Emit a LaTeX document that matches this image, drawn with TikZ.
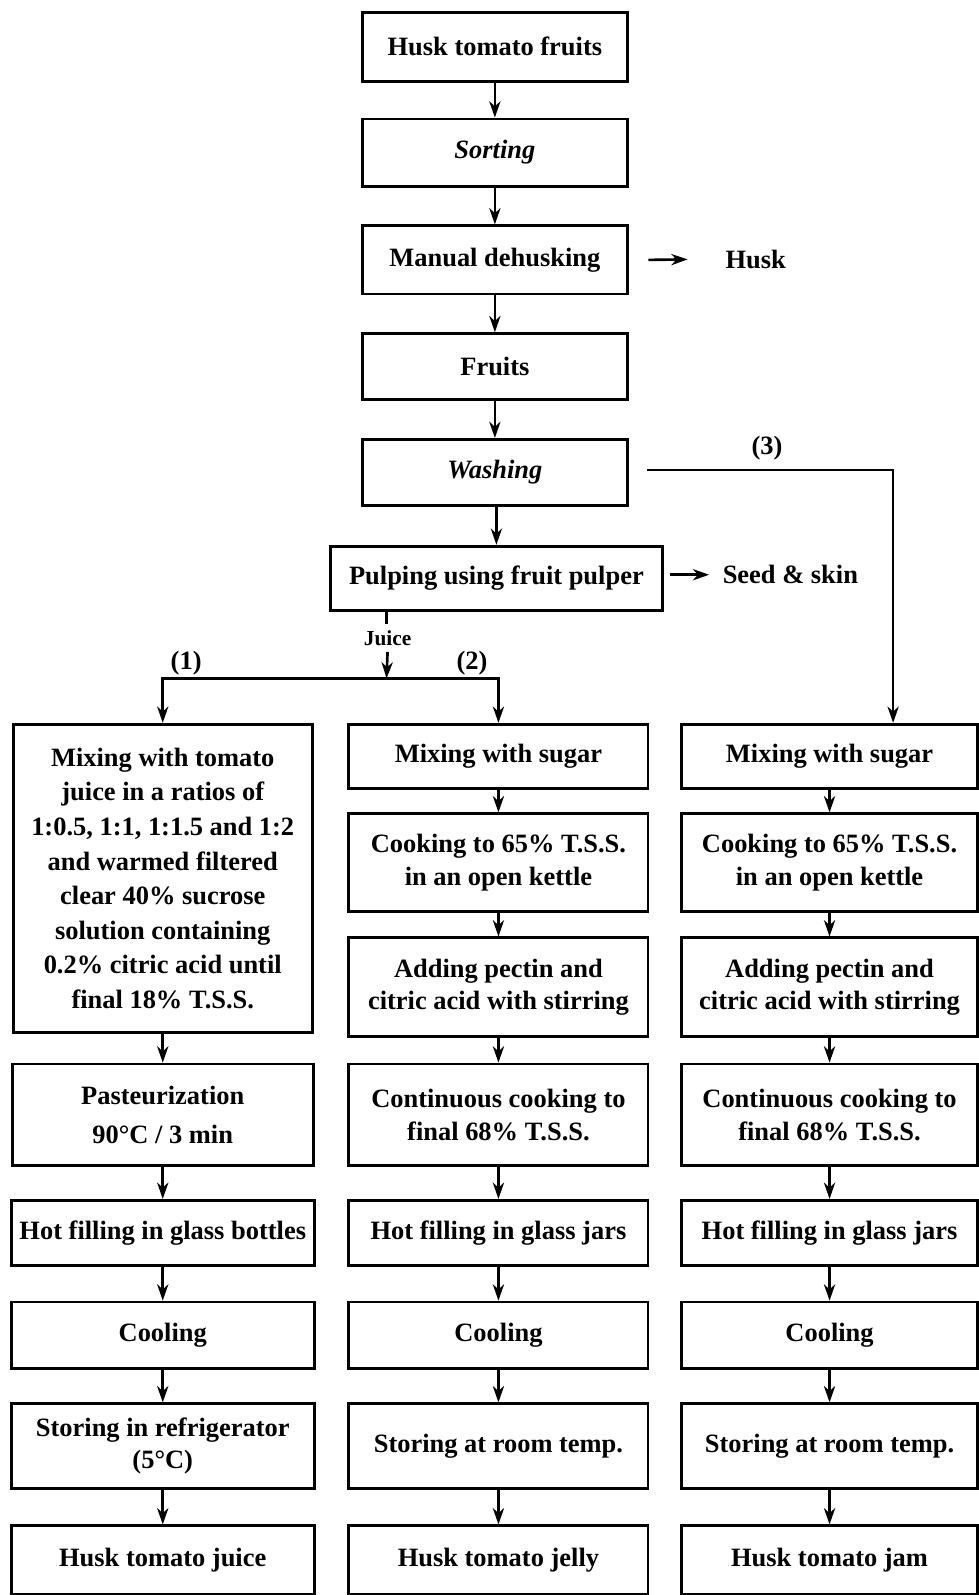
\documentclass[tikz,border=0pt]{standalone}
\usepackage{fontspec}
\setmainfont{Liberation Serif}
\usetikzlibrary{arrows.meta}
\begin{document}
\begin{tikzpicture}[x=0.5pt,y=-0.5pt,
  box/.style={draw,line width=1.4pt,align=center,inner sep=0pt,font=\fontsize{13}{16}\selectfont\bfseries},
  wh/.style 2 args={minimum width={#1*0.5pt},minimum height={#2*0.5pt}},
  lbl/.style={inner sep=0pt,font=\fontsize{13}{16}\selectfont\bfseries},
  arr/.style={line width=1.3pt,-{Stealth[length=8pt,width=5.5pt,inset=2.5pt]}},
  ln/.style={line width=1.3pt}]
\useasboundingbox (0,0) rectangle (962,1568);
% top column
\node[box,wh={261}{68}] (n1) at (486.5,46) {Husk tomato fruits};
\node[box,wh={261}{66}] (n2) at (486.5,150) {\itshape Sorting};
\node[box,wh={261}{67}] (n3) at (486.5,255.5) {Manual dehusking};
\node[box,wh={261}{65}] (n4) at (486.5,360.5) {Fruits};
\node[box,wh={261}{65}] (n5) at (486.5,464.5) {\itshape Washing};
\node[box,wh={326}{63}] (n6) at (488,568.5) {Pulping using fruit pulper};
\draw[arr] (n1) -- (n2);
\draw[arr] (n2) -- (n3);
\draw[arr] (n3) -- (n4);
\draw[arr] (n4) -- (n5);
\draw[arr] (n5.south -| n6) -- (n6);
% side outputs
\node[lbl] (husk) at (743,255) {Husk};
\draw[arr] ([xshift=9.5pt]n3.east) -- ([xshift=-18.5pt]husk.west);
\node[lbl] (seed) at (777,565) {Seed \& skin};
\draw[arr] ([xshift=3pt]n6.east |- seed.west) -- ([xshift=-6.5pt]seed.west);
% left column
\node[box,wh={294}{303},font=\fontsize{13}{17}\selectfont\bfseries] (L1) at (160,863.5) {Mixing with tomato\\juice in a ratios of\\1:0.5, 1:1, 1:1.5 and 1:2\\and warmed filtered\\clear 40\% sucrose\\solution containing\\0.2\% citric acid until\\final 18\% T.S.S.};
\node[box,wh={296}{100}] (L2) at (160,1096) {Pasteurization\\[3pt]90°C / 3 min};
\node[box,wh={298}{64}] (L3) at (160,1212) {Hot filling in glass bottles};
\node[box,wh={298}{65}] (L4) at (160,1312.5) {Cooling};
\node[box,wh={298}{83}] (L5) at (160,1421.5) {Storing in refrigerator\\(5°C)};
\node[box,wh={298}{67}] (L6) at (160,1533.5) {Husk tomato juice};
% middle column
\node[box,wh={294}{63}] (M1) at (490,743.5) {Mixing with sugar};
\node[box,wh={294}{96}] (M2) at (490,848) {Cooking to 65\% T.S.S.\\in an open kettle};
\node[box,wh={294}{97}] (M3) at (490,970.5) {Adding pectin and\\citric acid with stirring};
\node[box,wh={294}{100}] (M4) at (490,1096) {Continuous cooking to\\final 68\% T.S.S.};
\node[box,wh={294}{64}] (M5) at (490,1212) {Hot filling in glass jars};
\node[box,wh={294}{65}] (M6) at (490,1312.5) {Cooling};
\node[box,wh={294}{83}] (M7) at (490,1421.5) {Storing at room temp.};
\node[box,wh={294}{67}] (M8) at (490,1533.5) {Husk tomato jelly};
% right column
\node[box,wh={291}{63}] (R1) at (815.5,743.5) {Mixing with sugar};
\node[box,wh={291}{96}] (R2) at (815.5,848) {Cooking to 65\% T.S.S.\\in an open kettle};
\node[box,wh={291}{97}] (R3) at (815.5,970.5) {Adding pectin and\\citric acid with stirring};
\node[box,wh={291}{100}] (R4) at (815.5,1096) {Continuous cooking to\\final 68\% T.S.S.};
\node[box,wh={291}{64}] (R5) at (815.5,1212) {Hot filling in glass jars};
\node[box,wh={291}{65}] (R6) at (815.5,1312.5) {Cooling};
\node[box,wh={291}{83}] (R7) at (815.5,1421.5) {Storing at room temp.};
\node[box,wh={291}{67}] (R8) at (815.5,1533.5) {Husk tomato jam};
\foreach \a/\b in {L1/L2,L2/L3,L3/L4,L4/L5,L5/L6,
  M1/M2,M2/M3,M3/M4,M4/M5,M5/M6,M6/M7,M7/M8,
  R1/R2,R2/R3,R3/R4,R4/R5,R5/R6,R6/R7,R7/R8}
  \draw[arr] (\a) -- (\b);
% juice split
\coordinate (jm) at (380,667);
\coordinate (jl) at (160,667);
\coordinate (jr) at (490,667);
\draw[ln] (n6.south -| jm) -- ++(0,12);
\node[inner sep=0pt,font=\fontsize{10.5}{12}\selectfont\bfseries] (juice) at (381,627) {Juice};
\draw[arr] ([yshift=-3pt]juice.south) -- (jm);
\draw[arr] (jm) -- (jl) -- (L1.north);
\draw[arr] (jm) -- (jr) -- (M1.north);
\node[lbl] at (183,652) {(1)};
\node[lbl] at (464,652) {(2)};
% branch 3
\coordinate (w3) at (636,462);
\coordinate (c3) at (878,462);
\draw[arr] (w3) -- (c3) -- (c3 |- R1.north);
\node[lbl] at (754,441) {(3)};
\end{tikzpicture}
\end{document}
